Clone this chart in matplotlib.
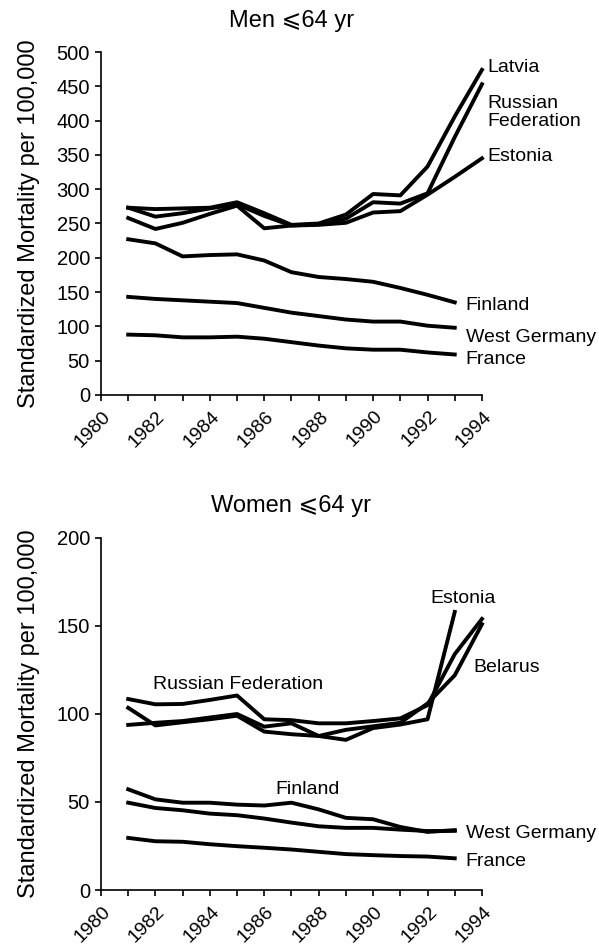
import numpy as np
import matplotlib
matplotlib.use('Agg')
import matplotlib.pyplot as plt
import matplotlib.transforms as mtransforms

plt.rcParams['font.family'] = ['Liberation Sans', 'DejaVu Sans']

years_long = np.arange(1981, 1995)
years_short = np.arange(1981, 1994)

# Men <=64 yr
men_latvia = [273, 271, 272, 273, 281, 265, 248, 250, 263, 293, 291, 333, 406, 474]
men_russia = [273, 260, 265, 272, 278, 261, 247, 249, 257, 281, 279, 294, 376, 453]
men_estonia = [258, 242, 251, 264, 276, 243, 247, 248, 251, 266, 268, 292, 318, 345]
men_finland = [227, 221, 202, 204, 205, 196, 179, 172, 169, 165, 156, 146, 135]
men_wgermany = [143, 140, 138, 136, 134, 127, 120, 115, 110, 107, 107, 101, 98]
men_france = [88, 87, 84, 84, 85, 82, 77, 72, 68, 66, 66, 62, 59]

# Women <=64 yr
women_russia = [108.5, 105.5, 105.7, 108, 110.5, 97, 96.5, 94.7, 94.7, 96, 97.5, 105, 134, 154]
women_estonia = [103.5, 93.5, 95.3, 97, 99, 90, 88.5, 87.5, 85.3, 92, 94, 97, 158]
women_belarus = [93.8, 95, 96, 98, 100, 92.8, 94.7, 87.5, 91, 93, 95, 106, 122, 151]
women_finland = [57.2, 51.5, 49.6, 49.6, 48.5, 48, 49.6, 45.8, 41, 40.2, 35.8, 33, 34]
women_wgermany = [49.6, 46.6, 45.3, 43.4, 42.5, 40.6, 38.3, 36.2, 35.3, 35.3, 34.3, 33.5, 33.6]
women_france = [29.6, 27.7, 27.4, 26, 24.9, 24, 23, 21.7, 20.4, 19.8, 19.3, 19, 18]

fig = plt.figure(figsize=(5.99, 9.44), dpi=100)
ax1 = fig.add_axes([0.1686, 0.5816, 0.636, 0.3633])
ax2 = fig.add_axes([0.1686, 0.0572, 0.636, 0.3729])

lw = 2.8
shift = mtransforms.ScaledTranslation(5 / 72, 0, fig.dpi_scale_trans)
for ax in (ax1, ax2):
    ax.spines['top'].set_visible(False)
    ax.spines['right'].set_visible(False)
    ax.spines['left'].set_linewidth(1.2)
    ax.spines['bottom'].set_linewidth(1.2)
    ax.set_xlim(1980, 1994)
    ax.set_xticks(np.arange(1980, 1995))
    ax.set_xticklabels([str(y) if y % 2 == 0 else '' for y in range(1980, 1995)],
                       rotation=45, ha='right', va='center', rotation_mode='anchor')
    ax.tick_params(axis='both', direction='out', length=4.5, width=1.2, labelsize=14.5)
    ax.tick_params(axis='x', pad=9, labelsize=14)
    for lab in ax.get_xticklabels():
        lab.set_transform(lab.get_transform() + shift)
    ax.set_ylabel('Standardized Mortality per 100,000', fontsize=17, labelpad=12)

# Men panel
ax1.set_ylim(0, 500)
ax1.set_yticks(np.arange(0, 501, 50))
ax1.plot(years_long, men_latvia, color='black', lw=lw, clip_on=False)
ax1.plot(years_long, men_russia, color='black', lw=lw, clip_on=False)
ax1.plot(years_long, men_estonia, color='black', lw=lw, clip_on=False)
ax1.plot(years_short, men_finland, color='black', lw=lw)
ax1.plot(years_short, men_wgermany, color='black', lw=lw)
ax1.plot(years_short, men_france, color='black', lw=lw)
ax1.set_title('Men \u2a7d64 yr', fontsize=17, pad=18)

fs = 14
ax1.text(1994.2, 478, 'Latvia', fontsize=fs, va='center', ha='left')
ax1.text(1994.2, 412, 'Russian\nFederation', fontsize=fs, va='center', ha='left', linespacing=1.05)
ax1.text(1994.2, 347, 'Estonia', fontsize=fs, va='center', ha='left')
ax1.text(1993.4, 131, 'Finland', fontsize=fs, va='center', ha='left')
ax1.text(1993.4, 84, 'West Germany', fontsize=fs, va='center', ha='left')
ax1.text(1993.4, 52, 'France', fontsize=fs, va='center', ha='left')

# Women panel
ax2.set_ylim(0, 200)
ax2.set_yticks(np.arange(0, 201, 50))
ax2.plot(years_long, women_russia, color='black', lw=lw, clip_on=False)
ax2.plot(years_short, women_estonia, color='black', lw=lw)
ax2.plot(years_long, women_belarus, color='black', lw=lw, clip_on=False)
ax2.plot(years_short, women_finland, color='black', lw=lw)
ax2.plot(years_short, women_wgermany, color='black', lw=lw)
ax2.plot(years_short, women_france, color='black', lw=lw)
ax2.set_title('Women \u2a7d64 yr', fontsize=17, pad=19)

ax2.text(1993.3, 165.5, 'Estonia', fontsize=fs, va='center', ha='center')
ax2.text(1993.7, 126.4, 'Belarus', fontsize=fs, va='center', ha='left')
ax2.text(1981.9, 116.6, 'Russian Federation', fontsize=fs, va='center', ha='left')
ax2.text(1986.4, 57.2, 'Finland', fontsize=fs, va='center', ha='left')
ax2.text(1993.4, 32, 'West Germany', fontsize=fs, va='center', ha='left')
ax2.text(1993.4, 16, 'France', fontsize=fs, va='center', ha='left')

fig.savefig('out.png', dpi=100)
